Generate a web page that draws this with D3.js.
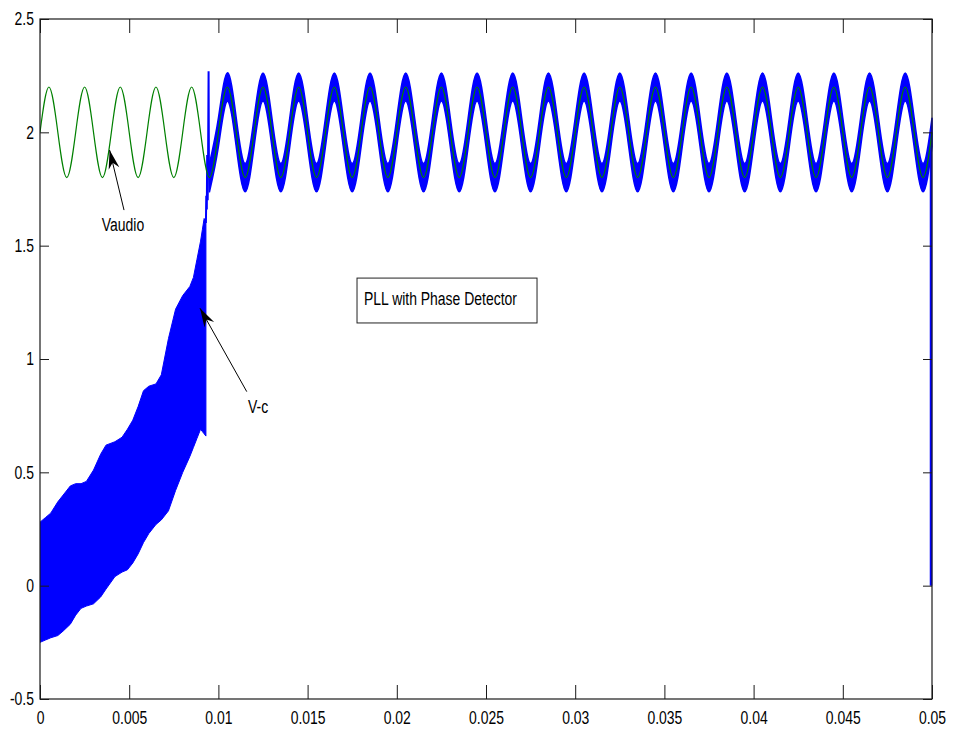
<!DOCTYPE html>
<html>
<head>
<meta charset="utf-8">
<script src="https://cdn.jsdelivr.net/npm/d3@7"></script>
<style>
  html, body { margin: 0; padding: 0; background: #fff; }
  svg { display: block; }
  text { font-family: "Liberation Sans", Arial, Helvetica, sans-serif; font-size: 18px; fill: #000; }
</style>
</head>
<body>
<svg id="chart" width="953" height="732"></svg>
<script>
// ---- Axis ticks ----
const xTicks = [0, 0.005, 0.01, 0.015, 0.02, 0.025, 0.03, 0.035, 0.04, 0.045, 0.05];
const xTickLabels = ["0", "0.005", "0.01", "0.015", "0.02", "0.025", "0.03", "0.035", "0.04", "0.045", "0.05"];
const yTicks = [-0.5, 0, 0.5, 1, 1.5, 2, 2.5];
const yTickLabels = ["-0.5", "0", "0.5", "1", "1.5", "2", "2.5"];

// ---- Vaudio: audio input, sampled every quarter period (0.5 ms) ----
const audioStep = 0.0005;
const audioV = [
  2.0, 2.2, 2.0, 1.8, 2.0, 2.2, 2.0, 1.8, 2.0, 2.2, 2.0, 1.8, 2.0, 2.2, 2.0, 1.8, 2.0, 2.2, 2.0, 1.8,
  2.0, 2.2, 2.0, 1.8, 2.0, 2.2, 2.0, 1.8, 2.0, 2.2, 2.0, 1.8, 2.0, 2.2, 2.0, 1.8, 2.0, 2.2, 2.0, 1.8,
  2.0, 2.2, 2.0, 1.8, 2.0, 2.2, 2.0, 1.8, 2.0, 2.2, 2.0, 1.8, 2.0, 2.2, 2.0, 1.8, 2.0, 2.2, 2.0, 1.8,
  2.0, 2.2, 2.0, 1.8, 2.0, 2.2, 2.0, 1.8, 2.0, 2.2, 2.0, 1.8, 2.0, 2.2, 2.0, 1.8, 2.0, 2.2, 2.0, 1.8,
  2.0, 2.2, 2.0, 1.8, 2.0, 2.2, 2.0, 1.8, 2.0, 2.2, 2.0, 1.8, 2.0, 2.2, 2.0, 1.8, 2.0, 2.2, 2.0, 1.8,
  2.0
];

// ---- V-c while acquiring lock: envelope of the fast ripple ----
const acqT = [0, 0.0003, 0.0006, 0.001, 0.0013, 0.0017, 0.002, 0.0023, 0.0026, 0.003,
              0.0034, 0.0037, 0.0042, 0.0046, 0.0049, 0.0052, 0.0055, 0.0058, 0.0061, 0.0065,
              0.0068, 0.0072, 0.0076, 0.008, 0.0084, 0.0086, 0.0088, 0.009, 0.0091, 0.0092, 0.0093];
const acqUpper = [0.28, 0.30, 0.32, 0.37, 0.40, 0.44, 0.45, 0.45, 0.46, 0.51,
                  0.58, 0.62, 0.635, 0.655, 0.69, 0.73, 0.79, 0.86, 0.88, 0.89,
                  0.93, 1.09, 1.22, 1.28, 1.32, 1.36, 1.44, 1.52, 1.57, 1.62, 1.60];
const acqLower = [-0.25, -0.24, -0.23, -0.22, -0.20, -0.17, -0.13, -0.10, -0.09, -0.08,
                  -0.05, -0.015, 0.04, 0.06, 0.07, 0.10, 0.14, 0.19, 0.23, 0.27,
                  0.29, 0.33, 0.42, 0.50, 0.57, 0.61, 0.65, 0.69, 0.68, 0.67, 0.66];

// ---- V-c at lock-in transient ----
const jumpT = [0.0093, 0.00932, 0.00935, 0.00937, 0.0094, 0.00942, 0.00945, 0.00947, 0.0095];
const jumpV = [1.60, 1.72, 1.66, 1.90, 1.70, 1.86, 2.27, 1.85, 1.80];

// ---- V-c once locked: tracks Vaudio with a small ripple ----
const lockStart = 19;          // index into audioV (t = 9.5 ms)
const lockRipple = 0.062;

// ---- V-c final sample ----
const tailT = [0.05, 0.05];
const tailV = [2.0, 0.0];

// ---- Layout ----
const W = 953, H = 732;
const margin = { left: 40, right: 21, top: 19, bottom: 33 };
const narrow = 0.775;          // horizontal squeeze for the condensed lettering
const svg = d3.select("#chart");
const x = d3.scaleLinear().domain([0, 0.05]).range([margin.left, W - margin.right]);
const y = d3.scaleLinear().domain([-0.5, 2.5]).range([H - margin.bottom, margin.top]);

const plot = svg.append("g");
plot.append("clipPath").attr("id", "clip").append("rect")
  .attr("x", x(0)).attr("y", y(2.5) - 1).attr("width", x(0.05) - x(0) + 2).attr("height", y(-0.5) - y(2.5) + 2);
const g = plot.append("g").attr("clip-path", "url(#clip)");

const blue = "#0000ff", green = "#008000";

// acquisition band
const acq = acqT.map((t, i) => ({ t, lo: acqLower[i], hi: acqUpper[i] }));
g.append("path").datum(acq)
  .attr("fill", blue).attr("stroke", blue).attr("stroke-width", 1)
  .attr("d", d3.area().x(d => x(d.t)).y0(d => y(d.lo)).y1(d => y(d.hi)));

// lock-in transient
const jump = jumpT.map((t, i) => ({ t, v: jumpV[i] }));
g.append("path").datum(jump)
  .attr("fill", "none").attr("stroke", blue).attr("stroke-width", 2)
  .attr("d", d3.line().x(d => x(d.t)).y(d => y(d.v)));

// locked band
const audio = audioV.map((v, i) => ({ t: i * audioStep, v }));
const locked = audio.slice(lockStart);
g.append("path").datum(locked)
  .attr("fill", blue).attr("stroke", blue).attr("stroke-width", 1.6).attr("stroke-linejoin", "round")
  .attr("d", d3.area().curve(d3.curveNatural)
    .x(d => x(d.t)).y0(d => y(d.v - lockRipple)).y1(d => y(d.v + lockRipple)));

// final drop
const tail = tailT.map((t, i) => ({ t, v: tailV[i] }));
g.append("path").datum(tail)
  .attr("fill", "none").attr("stroke", blue).attr("stroke-width", 2.5)
  .attr("d", d3.line().x(d => x(d.t) - 1).y(d => y(d.v)));

// Vaudio
g.append("path").datum(audio)
  .attr("fill", "none").attr("stroke", green).attr("stroke-width", 1.2)
  .attr("d", d3.line().curve(d3.curveNatural).x(d => x(d.t)).y(d => y(d.v)));

// ---- Axes (box with inward ticks) ----
const axisColor = "#1a1a1a";
function styleAxis(sel) {
  sel.select(".domain").remove();
  sel.selectAll(".tick line").attr("stroke", axisColor);
}
svg.append("g").attr("transform", `translate(0,${y(-0.5)})`)
  .call(d3.axisBottom(x).tickValues(xTicks).tickFormat((d, i) => xTickLabels[i])
    .tickSizeInner(-14).tickSizeOuter(0).tickPadding(12))
  .call(styleAxis)
  .call(s => s.selectAll("text").attr("font-size", 18).attr("font-family", null)
    .attr("transform", `scale(${narrow},1)`));
svg.append("g").attr("transform", `translate(0,${y(2.5)})`)
  .call(d3.axisTop(x).tickValues(xTicks).tickFormat("").tickSizeInner(-14).tickSizeOuter(0))
  .call(styleAxis);
svg.append("g").attr("transform", `translate(${x(0)},0)`)
  .call(d3.axisLeft(y).tickValues(yTicks).tickFormat((d, i) => yTickLabels[i])
    .tickSizeInner(-9).tickSizeOuter(0).tickPadding(6))
  .call(styleAxis)
  .call(s => s.selectAll("text").attr("font-size", 18).attr("font-family", null)
    .attr("x", -6 / narrow).attr("transform", `scale(${narrow},1)`));
svg.append("g").attr("transform", `translate(${x(0.05)},0)`)
  .call(d3.axisRight(y).tickValues(yTicks).tickFormat("").tickSizeInner(-9).tickSizeOuter(0))
  .call(styleAxis);
svg.append("rect")
  .attr("x", x(0)).attr("y", y(2.5)).attr("width", x(0.05) - x(0)).attr("height", y(-0.5) - y(2.5))
  .attr("fill", "none").attr("stroke", axisColor).attr("stroke-width", 1.2);

// ---- Annotations ----
function arrow(t0, v0, t1, v1) {
  const ax = x(t0), ay = y(v0), bx = x(t1), by = y(v1);
  svg.append("line").attr("x1", ax).attr("y1", ay).attr("x2", bx).attr("y2", by)
    .attr("stroke", "#000").attr("stroke-width", 1);
  const ang = Math.atan2(by - ay, bx - ax);
  const L = 19, Wd = 5.5, back = 13;
  const ux = Math.cos(ang), uy = Math.sin(ang), px = -uy, py = ux;
  const pts = [
    [bx, by],
    [bx - ux * L + px * Wd, by - uy * L + py * Wd],
    [bx - ux * back, by - uy * back],
    [bx - ux * L - px * Wd, by - uy * L - py * Wd]
  ];
  svg.append("path").attr("d", "M" + pts.map(p => p.join(",")).join("L") + "Z").attr("fill", "#000");
}
function label(t, v, str, anchor) {
  svg.append("text")
    .attr("transform", `translate(${x(t)},${y(v)}) scale(${narrow},1)`)
    .attr("text-anchor", anchor || "start")
    .text(str);
}
arrow(0.00471, 1.657, 0.0039, 1.922);
label(0.00465, 1.565, "Vaudio", "middle");

arrow(0.01159, 0.856, 0.00897, 1.224);
label(0.01166, 0.762, "V-c");

svg.append("rect")
  .attr("x", x(0.01777)).attr("y", y(1.357)).attr("width", x(0.02786) - x(0.01777)).attr("height", y(1.159) - y(1.357))
  .attr("fill", "#fff").attr("stroke", "#222").attr("stroke-width", 1);
label(0.01816, 1.238, "PLL with Phase Detector");
</script>
</body>
</html>
